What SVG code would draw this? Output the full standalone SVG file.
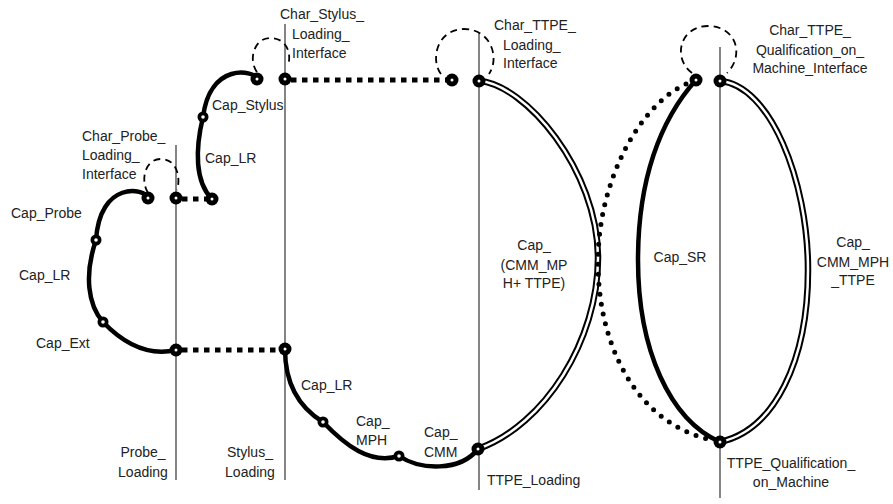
<svg xmlns="http://www.w3.org/2000/svg" width="893" height="504" viewBox="0 0 893 504">
  <style>
    .axis { stroke: #333; stroke-width: 1.2; fill: none; }
    .cap { stroke: #000; stroke-width: 4.5; fill: none; stroke-linecap: round; }
    .link { stroke: #000; stroke-width: 5; fill: none; stroke-dasharray: 5.5 5.5; }
    .dots { stroke: #000; stroke-width: 5; fill: none; stroke-linecap: round; stroke-dasharray: 0 10; }
    .tube-outer { stroke: #000; stroke-width: 6.5; fill: none; }
    .tube-inner { stroke: #fff; stroke-width: 2.5; fill: none; }
    .iface { stroke: #000; stroke-width: 1.8; fill: none; stroke-dasharray: 7 5; }
    .node circle.o { fill: #000; }
    .node circle.i { fill: #fff; }
    text { font-family: "Liberation Sans", Arial, sans-serif; font-size: 14px; fill: #222; }
  </style>
  <rect width="893" height="504" fill="#fff"/>

  <!-- vertical loading axes -->
  <g id="axes">
    <line class="axis" x1="176" y1="145" x2="176" y2="480"/>
    <line class="axis" x1="285" y1="24" x2="285" y2="480"/>
    <line class="axis" x1="479" y1="33" x2="479" y2="490"/>
    <line class="axis" x1="720" y1="47" x2="720" y2="498"/>
  </g>

  <g id="connectors">
    <!-- probe chain -->
    <path class="cap" d="M148,198 C145,188 100,180 96,240"/>
    <path class="cap" d="M96,240 C84,275 88,305 103,322"/>
    <path class="cap" d="M103,322 C125,345 150,356 176,350"/>
    <!-- stylus chain -->
    <path class="cap" d="M257,79 C254,70 210,62 203,117"/>
    <path class="cap" d="M203,117 C195,150 195,182 212,199"/>
    <!-- machine chain -->
    <path class="cap" d="M285,349 C285,385 300,408 323,422"/>
    <path class="cap" d="M323,422 C345,445 370,465 399,456"/>
    <path class="cap" d="M399,456 C420,470 460,472 478,449"/>
    <!-- interface links -->
    <line class="link" x1="182" y1="199" x2="207" y2="199"/>
    <line class="link" x1="291" y1="80" x2="447" y2="80"/>
    <line class="link" x1="182" y1="350" x2="280" y2="350"/>
    <!-- TTPE loading loop -->
    <path class="tube-outer" d="M479,81 C525,84 598,170 598,258 C598,340 545,425 478,449"/>
    <path class="tube-inner" d="M479,81 C525,84 598,170 598,258 C598,340 545,425 478,449"/>
    <!-- qualification loop -->
    <path class="tube-outer" d="M720,81 C770,85 808,180 808,270 C808,360 775,430 720,442"/>
    <path class="tube-inner" d="M720,81 C770,85 808,180 808,270 C808,360 775,430 720,442"/>
    <path class="cap" d="M696,80 C660,120 638,180 638,260 C638,350 670,420 720,442"/>
    <path class="dots" d="M686,84 C640,105 598,180 598,262 C598,350 640,425 712,440"/>
    <!-- interface loops -->
    <path class="iface" d="M148,193 C140,180 145,159 161,159 C177,159 181,178 177,190"/>
    <path class="iface" d="M257,72 C248,60 254,38 270,38 C286,38 292,52 288,66"/>
    <path class="iface" d="M441,74 C430,60 437,29 464,29 C491,29 500,58 489,74"/>
    <path class="iface" d="M692,73 C672,58 680,26 708,26 C736,26 745,55 727,73"/>
  </g>

  <!-- nodes -->
  <g id="n-probe-a" class="node"><circle class="o" cx="148" cy="198" r="6.5"/><circle class="i" cx="148" cy="198" r="1.5"/></g>
  <g id="n-probe-b" class="node"><circle class="o" cx="176" cy="198" r="6.5"/><circle class="i" cx="176" cy="198" r="1.5"/></g>
  <g id="n-probe-c" class="node"><circle class="o" cx="212" cy="199" r="6.5"/><circle class="i" cx="212" cy="199" r="1.5"/></g>
  <g id="n-probe-lr" class="node"><circle class="o" cx="96" cy="240" r="5.5"/><circle class="i" cx="96" cy="240" r="1.8"/></g>
  <g id="n-probe-ext" class="node"><circle class="o" cx="103" cy="322" r="5.5"/><circle class="i" cx="103" cy="322" r="1.8"/></g>
  <g id="n-probe-load" class="node"><circle class="o" cx="176" cy="350" r="6.5"/><circle class="i" cx="176" cy="350" r="1.5"/></g>
  <g id="n-stylus-a" class="node"><circle class="o" cx="257" cy="79" r="6.5"/><circle class="i" cx="257" cy="79" r="1.5"/></g>
  <g id="n-stylus-b" class="node"><circle class="o" cx="285" cy="79" r="6.5"/><circle class="i" cx="285" cy="79" r="1.5"/></g>
  <g id="n-stylus-lr" class="node"><circle class="o" cx="203" cy="117" r="5.5"/><circle class="i" cx="203" cy="117" r="1.8"/></g>
  <g id="n-stylus-load" class="node"><circle class="o" cx="285" cy="349" r="6.5"/><circle class="i" cx="285" cy="349" r="1.5"/></g>
  <g id="n-lr-mph" class="node"><circle class="o" cx="323" cy="422" r="5.5"/><circle class="i" cx="323" cy="422" r="1.8"/></g>
  <g id="n-mph-cmm" class="node"><circle class="o" cx="399" cy="456" r="5.5"/><circle class="i" cx="399" cy="456" r="1.8"/></g>
  <g id="n-ttpe-load" class="node"><circle class="o" cx="478" cy="449" r="6.5"/><circle class="i" cx="478" cy="449" r="1.5"/></g>
  <g id="n-ttpe-a" class="node"><circle class="o" cx="452" cy="80" r="6.5"/><circle class="i" cx="452" cy="80" r="1.5"/></g>
  <g id="n-ttpe-b" class="node"><circle class="o" cx="479" cy="81" r="6.5"/><circle class="i" cx="479" cy="81" r="1.5"/></g>
  <g id="n-qual-a" class="node"><circle class="o" cx="696" cy="80" r="6.5"/><circle class="i" cx="696" cy="80" r="1.5"/></g>
  <g id="n-qual-b" class="node"><circle class="o" cx="720" cy="81" r="6.5"/><circle class="i" cx="720" cy="81" r="1.5"/></g>
  <g id="n-qual-machine" class="node"><circle class="o" cx="720" cy="442" r="6.5"/><circle class="i" cx="720" cy="442" r="1.5"/></g>

  <!-- labels -->
  <g id="labels">
    <text x="82" y="141">Char_Probe_</text>
    <text x="82" y="160">Loading_</text>
    <text x="82" y="179">Interface</text>
    <text x="11" y="218">Cap_Probe</text>
    <text x="19" y="280">Cap_LR</text>
    <text x="36" y="348">Cap_Ext</text>
    <text x="205" y="163">Cap_LR</text>
    <text x="212" y="110">Cap_Stylus</text>
    <text x="280" y="19">Char_Stylus_</text>
    <text x="292" y="39">Loading_</text>
    <text x="292" y="58">Interface</text>
    <text x="494" y="30">Char_TTPE_</text>
    <text x="503" y="50">Loading_</text>
    <text x="503" y="68">Interface</text>
    <text x="534" y="250" text-anchor="middle">Cap_</text>
    <text x="534" y="270" text-anchor="middle">(CMM_MP</text>
    <text x="534" y="288" text-anchor="middle">H+ TTPE)</text>
    <text x="680" y="262" text-anchor="middle">Cap_SR</text>
    <text x="853" y="247" text-anchor="middle">Cap_</text>
    <text x="853" y="267" text-anchor="middle">CMM_MPH</text>
    <text x="853" y="285" text-anchor="middle">_TTPE</text>
    <text x="810" y="35" text-anchor="middle">Char_TTPE_</text>
    <text x="810" y="55" text-anchor="middle">Qualification_on_</text>
    <text x="810" y="73" text-anchor="middle">Machine_Interface</text>
    <text x="791" y="468" text-anchor="middle">TTPE_Qualification_</text>
    <text x="791" y="487" text-anchor="middle">on_Machine</text>
    <text x="487" y="485">TTPE_Loading</text>
    <text x="301" y="390">Cap_LR</text>
    <text x="356" y="426">Cap_</text>
    <text x="356" y="445">MPH</text>
    <text x="424" y="437">Cap_</text>
    <text x="424" y="457">CMM</text>
    <text x="143" y="457" text-anchor="middle">Probe_</text>
    <text x="143" y="477" text-anchor="middle">Loading</text>
    <text x="250" y="457" text-anchor="middle">Stylus_</text>
    <text x="250" y="477" text-anchor="middle">Loading</text>
  </g>
</svg>
